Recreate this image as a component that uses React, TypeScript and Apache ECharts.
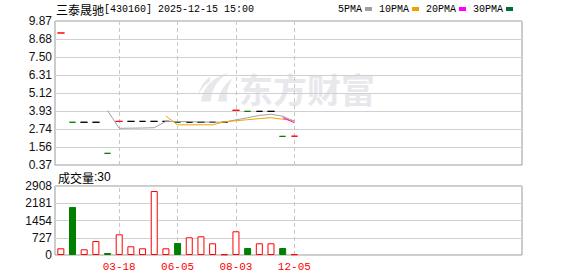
import React, { useEffect, useRef } from 'react';
import * as echarts from 'echarts';

// ---- data ----
const stockTitleName = '三泰晟驰';
const stockTitleInfo = '[430160] 2025-12-15 15:00';
const dates = [
  '01-06', '01-16', '02-11', '02-21', '03-06', '03-18', '04-02', '04-17', '05-08', '05-22',
  '06-05', '06-19', '07-01', '07-10', '07-22', '08-03', '08-21', '09-10', '10-15', '11-06', '12-05',
];
const labelledDates = ['03-18', '06-05', '08-03', '12-05'];
const slotCount = 40;
const opens = [9.08, 3.19, 3.19, 3.19, 1.14, 3.25, 3.25, 3.25, 3.25, 3.25, 3.19, 3.19, 3.19, 3.19, 3.19, 3.98, 3.91, 3.91, 3.91, 2.26, 2.27];
const closes = [9.08, 3.19, 3.19, 3.19, 1.14, 3.25, 3.25, 3.25, 3.25, 3.25, 3.19, 3.19, 3.19, 3.19, 3.19, 3.98, 3.91, 3.91, 3.91, 2.26, 2.27];
const lows = [9.08, 3.19, 3.19, 3.19, 1.14, 3.25, 3.25, 3.25, 3.25, 3.25, 3.19, 3.19, 3.19, 3.19, 3.19, 3.98, 3.91, 3.91, 3.91, 2.26, 2.27];
const highs = [9.08, 3.19, 3.19, 3.19, 1.14, 3.25, 3.25, 3.25, 3.25, 3.25, 3.19, 3.19, 3.19, 3.19, 3.19, 3.98, 3.91, 3.91, 3.91, 2.26, 2.27];
const tones = ['up', 'down', 'flat', 'flat', 'down', 'up', 'flat', 'flat', 'flat', 'flat', 'down', 'flat', 'flat', 'flat', 'flat', 'up', 'down', 'flat', 'flat', 'down', 'up'];
const volumes = [282, 2023, 240, 590, 84, 872, 367, 282, 2697, 282, 506, 746, 788, 493, 25, 999, 295, 493, 493, 295, 30];
const ma5 = ['-', '-', '-', '-', 3.96, 2.79, 2.80, 2.81, 2.83, 3.25, 3.24, 3.23, 3.21, 3.20, 3.19, 3.35, 3.49, 3.64, 3.72, 3.59, 3.25];
const ma10 = ['-', '-', '-', '-', '-', '-', '-', '-', '-', 3.60, 3.02, 3.02, 3.02, 3.02, 3.22, 3.29, 3.36, 3.43, 3.49, 3.39, 3.30];
const ma20 = ['-', '-', '-', '-', '-', '-', '-', '-', '-', '-', '-', '-', '-', '-', '-', '-', '-', '-', '-', 3.50, 3.16];
const ma30 = ['-', '-', '-', '-', '-', '-', '-', '-', '-', '-', '-', '-', '-', '-', '-', '-', '-', '-', '-', '-', '-'];
const maNames = ['5PMA', '10PMA', '20PMA', '30PMA'];
const priceTicks = ['0.37', '1.56', '2.74', '3.93', '5.12', '6.31', '7.50', '8.68', '9.87'];
const volumeTicks = [0, 727, 1454, 2181, 2908];

// ---- styles ----
const RED = '#ff0000';
const GREEN = '#008000';
const FLAT = '#000000';
const maColors = ['#a0a0a0', '#f0a000', '#ff00ff', '#006f32'];
const LABEL = '#111111';

const LOGO_D =
  'M30 0 C16 4 5 14 3 30 L13 30 C13 18 19 8 30 0 Z M35 5 C27 11 21 20 20 30 L29 30 C28 21 30 13 35 5 Z M12 4 C6 9 1 16 0 24 C3 17 7 12 12 9 Z';
try {
  echarts.graphic.registerShape('emLogo', echarts.graphic.extendPath(LOGO_D, {}));
} catch (e) {
  /* already registered */
}

function toneColor(t: string) {
  return t === 'up' ? RED : t === 'down' ? GREEN : FLAT;
}

export default function App() {
  const ref = useRef<HTMLDivElement>(null);
  useEffect(() => {
    document.body.style.margin = '0';
    if (!ref.current) return;
    const chart = echarts.init(ref.current, undefined, { renderer: 'svg' });

    const categories = dates.concat(Array(slotCount - dates.length).fill(''));
    const priceMin = parseFloat(priceTicks[0]);
    const priceMax = parseFloat(priceTicks[priceTicks.length - 1]);

    const candleData = dates.map((_, i) => {
      const c = toneColor(tones[i]);
      return {
        value: [opens[i], closes[i], lows[i], highs[i]],
        itemStyle: { color: c, color0: c, borderColor: c, borderColor0: c, borderColorDoji: c, borderWidth: 1 },
      };
    });
    const volumeData = volumes.map((v, i) => {
      const down = tones[i] === 'down';
      return {
        value: v,
        itemStyle: down
          ? { color: GREEN, borderColor: GREEN, borderWidth: 1 }
          : { color: '#ffffff', borderColor: RED, borderWidth: 1 },
      };
    });

    const dashLine = {
      silent: true,
      symbol: ['none', 'none'],
      label: { show: false },
      emphasis: { disabled: true },
      lineStyle: { color: '#c8c8c8', type: [4, 3], width: 1 },
      z: 1,
      data: labelledDates.map((d) => ({ xAxis: d })),
    };

    const maSeries = [ma5, ma10, ma20, ma30].map((d, k) => ({
      name: maNames[k],
      type: 'line',
      xAxisIndex: 0,
      yAxisIndex: 0,
      data: d,
      symbol: 'none',
      showSymbol: false,
      smooth: false,
      lineStyle: { color: maColors[k], width: 1 },
      z: 3,
    }));

    // legend graphics
    const legendEls: any[] = [];
    let lx = 338;
    maNames.forEach((n, k) => {
      const w = n.length * 6;
      legendEls.push({
        type: 'text',
        x: lx,
        y: 9,
        style: { text: n, fill: '#000', font: '10px "Liberation Mono"', verticalAlign: 'middle', align: 'left' },
      });
      legendEls.push({
        type: 'rect',
        shape: { x: lx + w + 3, y: 7, width: 7, height: 4 },
        style: { fill: maColors[k] },
      });
      lx += w + 3 + 7 + 7;
    });

    const option: any = {
      animation: false,
      backgroundColor: '#ffffff',
      grid: [
        { left: 55, top: 21, width: 467, height: 144, show: true, borderColor: '#999999', borderWidth: 1 },
        { left: 55, top: 186, width: 467, height: 69, show: true, borderColor: '#999999', borderWidth: 1 },
      ],
      xAxis: [
        {
          type: 'category', gridIndex: 0, data: categories, boundaryGap: true,
          axisLine: { show: false }, axisTick: { show: false }, axisLabel: { show: false }, splitLine: { show: false },
        },
        {
          type: 'category', gridIndex: 1, data: categories, boundaryGap: true,
          axisLine: { show: false }, axisTick: { show: false }, splitLine: { show: false },
          axisLabel: {
            show: true,
            interval: (_i: number, v: string) => labelledDates.indexOf(v) >= 0,
            color: RED, fontFamily: '"Liberation Mono"', fontSize: 11, margin: 6,
          },
        },
      ],
      yAxis: [
        { type: 'value', gridIndex: 0, min: priceMin, max: priceMax, show: false, position: 'right' },
        {
          type: 'value', gridIndex: 0, min: 0, max: priceTicks.length - 1, interval: 1, position: 'left',
          axisLine: { show: false }, axisTick: { show: false },
          axisLabel: { formatter: (v: number) => priceTicks[Math.round(v)], color: LABEL, fontFamily: '"Liberation Sans"', fontSize: 12, margin: 3 },
          splitLine: { show: true, lineStyle: { color: '#d0d0d0', width: 1 } },
        },
        {
          type: 'value', gridIndex: 1, min: volumeTicks[0], max: volumeTicks[volumeTicks.length - 1],
          interval: volumeTicks[1] - volumeTicks[0], position: 'left',
          axisLine: { show: false }, axisTick: { show: false },
          axisLabel: { formatter: (v: number) => String(v), color: LABEL, fontFamily: '"Liberation Sans"', fontSize: 12, margin: 3 },
          splitLine: { show: true, lineStyle: { color: '#d0d0d0', width: 1 } },
        },
      ],
      series: [
        {
          type: 'candlestick', xAxisIndex: 0, yAxisIndex: 0, barWidth: 7, data: candleData,
          emphasis: { disabled: true }, markLine: dashLine, z: 2,
        },
        ...maSeries,
        {
          type: 'bar', xAxisIndex: 1, yAxisIndex: 2, barWidth: 7, data: volumeData,
          emphasis: { disabled: true }, markLine: dashLine, z: 2,
        },
      ],
      graphic: [
        {
          type: 'group', z: -1, silent: true,
          children: [
            { type: 'emLogo', x: 198, y: 73, scaleX: 1, scaleY: 0.95, style: { fill: '#e8e8ec' }, z: -1 },
            {
              type: 'text', x: 239, y: 88, z: -1,
              style: { text: '东方财富', fill: '#e8e8ec', font: 'bold 34px "Noto Sans CJK SC"', verticalAlign: 'middle', align: 'left' },
            },
          ],
        },
        {
          type: 'text', x: 56, y: 9,
          style: {
            text: `{a|${stockTitleName}}{b|${stockTitleInfo}}`,
            verticalAlign: 'middle', align: 'left',
            rich: {
              a: { fontFamily: '"Noto Sans CJK SC"', fontSize: 12, fill: '#000' },
              b: { fontFamily: '"Liberation Mono"', fontSize: 10, fill: '#000' },
            },
          },
        },
        ...legendEls,
        {
          type: 'text', x: 58, y: 177,
          style: {
            text: `{a|成交量}{b|:${volumes[volumes.length - 1]}}`,
            verticalAlign: 'middle', align: 'left',
            rich: {
              a: { fontFamily: '"Noto Sans CJK SC"', fontSize: 12, fill: '#000' },
              b: { fontFamily: '"Liberation Sans"', fontSize: 12, fill: '#000' },
            },
          },
        },
      ],
    };
    chart.setOption(option);
    return () => chart.dispose();
  }, []);
  return <div ref={ref} style={{ width: 578, height: 276 }} />;
}
